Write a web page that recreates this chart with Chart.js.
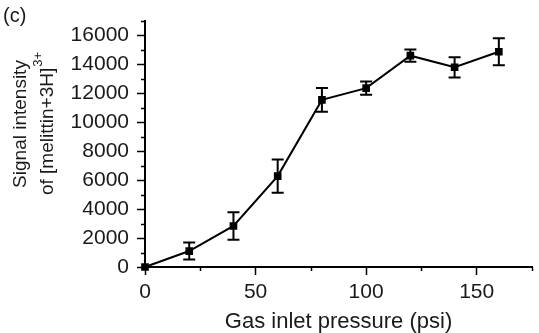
<!DOCTYPE html>
<html>
<head>
<meta charset="utf-8">
<script src="https://cdn.jsdelivr.net/npm/chart.js@4/dist/chart.umd.min.js"></script>
<style>
  html, body { margin: 0; padding: 0; background: #fff; }
  #wrap { width: 539px; height: 333px; }
</style>
</head>
<body>
<div id="wrap"><canvas id="c" width="539" height="333"></canvas></div>
<script>
const pressure = [0, 20, 40, 60, 80, 100, 120, 140, 160];
const signal = [0, 1100, 2830, 6270, 11530, 12340, 14580, 13780, 14850];
const signalErr = [0, 590, 950, 1140, 820, 450, 420, 700, 930];
const xTicks = [0, 50, 100, 150];
const xMinorTicks = [25, 75, 125, 175];
const yTicks = [0, 2000, 4000, 6000, 8000, 10000, 12000, 14000, 16000];
const yMinorTicks = [1000, 3000, 5000, 7000, 9000, 11000, 13000, 15000, 17000];
const xTitle = 'Gas inlet pressure (psi)';
const yTitleLine1 = 'Signal intensity';
const yTitleLine2 = 'of [melittin+3H]';
const yTitleSup = '3+';
const panelLabel = '(c)';

const FONT = '"Liberation Sans", Arial, Helvetica, sans-serif';

const extras = {
  id: 'extras',
  afterDatasetsDraw(chart) {
    const ctx = chart.ctx;
    const xs = chart.scales.x, ys = chart.scales.y;
    ctx.save();
    ctx.strokeStyle = '#000';
    ctx.lineWidth = 2;
    for (let i = 0; i < pressure.length; i++) {
      if (!signalErr[i]) continue;
      const px = xs.getPixelForValue(pressure[i]);
      const top = ys.getPixelForValue(signal[i] + signalErr[i]);
      const bot = ys.getPixelForValue(signal[i] - signalErr[i]);
      ctx.beginPath();
      ctx.moveTo(px, top); ctx.lineTo(px, bot);
      ctx.moveTo(px - 6, top); ctx.lineTo(px + 6, top);
      ctx.moveTo(px - 6, bot); ctx.lineTo(px + 6, bot);
      ctx.stroke();
    }
    ctx.restore();
  },
  afterDraw(chart) {
    const ctx = chart.ctx;
    const xs = chart.scales.x, ys = chart.scales.y;
    const area = chart.chartArea;
    ctx.save();
    ctx.strokeStyle = '#000';
    ctx.lineWidth = 1.5;
    ctx.beginPath();
    yMinorTicks.forEach(v => {
      const py = Math.round(ys.getPixelForValue(v)) + 0.5;
      ctx.moveTo(area.left - 4, py); ctx.lineTo(area.left, py);
    });
    xMinorTicks.forEach(v => {
      const px = Math.round(xs.getPixelForValue(v)) + 0.5;
      ctx.moveTo(px, area.bottom); ctx.lineTo(px, area.bottom + 4);
    });
    ctx.stroke();

    ctx.fillStyle = '#1a1a1a';
    ctx.font = '20px ' + FONT;
    ctx.textAlign = 'left';
    ctx.textBaseline = 'alphabetic';
    ctx.fillText(panelLabel, 3, 22);

    const cy = 124;
    ctx.save();
    ctx.translate(26, cy);
    ctx.rotate(-Math.PI / 2);
    ctx.textAlign = 'center';
    ctx.font = '19px ' + FONT;
    ctx.fillText(yTitleLine1, 0, 0);
    ctx.restore();

    ctx.save();
    ctx.translate(53, cy);
    ctx.rotate(-Math.PI / 2);
    ctx.font = '19px ' + FONT;
    const w1 = ctx.measureText(yTitleLine2).width;
    ctx.font = '13px ' + FONT;
    const w2 = ctx.measureText(yTitleSup).width;
    const start = -(w1 + w2) / 2;
    ctx.textAlign = 'left';
    ctx.font = '19px ' + FONT;
    ctx.fillText(yTitleLine2, start, 0);
    ctx.font = '13px ' + FONT;
    ctx.fillText(yTitleSup, start + w1 + 1, -11);
    ctx.restore();

    ctx.restore();
  }
};

new Chart(document.getElementById('c'), {
  type: 'line',
  data: {
    datasets: [{
      data: pressure.map((p, i) => ({ x: p, y: signal[i] })),
      borderColor: '#000',
      backgroundColor: '#000',
      borderWidth: 2,
      pointStyle: 'rect',
      pointRadius: 4,
      pointHoverRadius: 4,
      tension: 0,
      clip: false
    }]
  },
  plugins: [extras],
  options: {
    responsive: false,
    animation: false,
    events: [],
    layout: { padding: { left: 0, top: 4, right: 7, bottom: 0 } },
    plugins: { legend: { display: false }, tooltip: { enabled: false } },
    scales: {
      x: {
        type: 'linear',
        min: 0, max: 175,
        afterBuildTicks: s => { s.ticks = xTicks.map(v => ({ value: v })); },
        afterFit: s => { s.height = 66; },
        grid: { drawOnChartArea: false, drawTicks: true, tickLength: 8, tickWidth: 1.5, tickColor: '#000' },
        border: { display: true, color: '#000', width: 2 },
        ticks: { color: '#1a1a1a', font: { family: FONT, size: 21 }, padding: 5, maxRotation: 0 },
        title: { display: true, text: xTitle, color: '#1a1a1a', font: { family: FONT, size: 22, lineHeight: 1 }, padding: 0 }
      },
      y: {
        type: 'linear',
        min: 0, max: 17000,
        afterBuildTicks: s => { s.ticks = yTicks.map(v => ({ value: v })); },
        afterFit: s => { s.width = 145; },
        grid: { drawOnChartArea: false, drawTicks: true, tickLength: 8, tickWidth: 1.5, tickColor: '#000' },
        border: { display: true, color: '#000', width: 2 },
        ticks: { color: '#1a1a1a', font: { family: FONT, size: 21 }, padding: 8, callback: v => String(v) }
      }
    }
  }
});
</script>
</body>
</html>
